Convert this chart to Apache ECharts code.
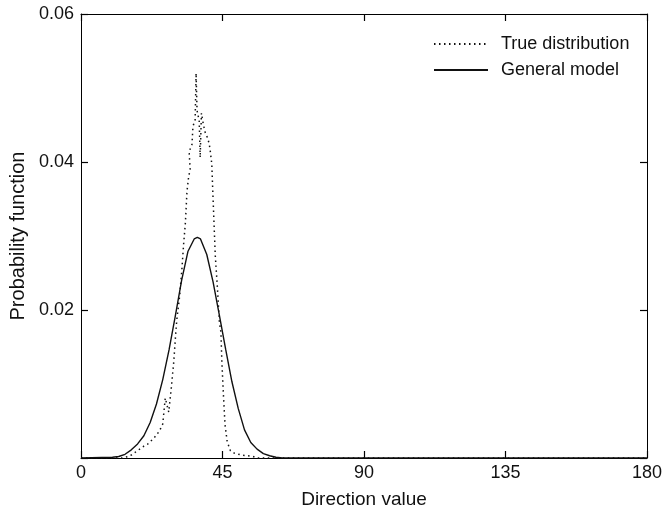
<!DOCTYPE html>
<html>
<head>
<meta charset="utf-8">
<script src="https://cdn.jsdelivr.net/npm/echarts@6/dist/echarts.min.js"></script>
<style>
  html, body { margin: 0; padding: 0; background: #fff; }
  #chart { width: 665px; height: 514px; }
</style>
</head>
<body>
<div id="chart"></div>
<script>
// tick labels
var xTicks = [0, 45, 90, 135, 180]
var yTicks = [0.02, 0.04, 0.06]

// General model (solid)
var generalX = [0, 10, 12, 14, 16, 18, 20, 22, 24, 26, 28, 30, 32, 34, 36, 37, 38, 40, 42, 44, 46, 48, 50, 52, 54, 56, 58, 60, 62, 64, 180]
var generalY = [0, 0.0001, 0.0002, 0.0005, 0.0011, 0.0019, 0.0030, 0.0048, 0.0073, 0.0106, 0.0146, 0.0192, 0.0240, 0.0279, 0.0296, 0.0298, 0.0296, 0.0275, 0.0238, 0.0193, 0.0147, 0.0103, 0.0067, 0.0038, 0.0021, 0.0012, 0.0006, 0.0003, 0.0001, 0, 0]

// True distribution (dotted)
var trueX = [0, 13, 14, 15, 16, 17, 18, 19, 20, 21, 22, 23, 24, 25, 26, 26.8, 27.9, 28.7, 29.5, 30.2, 30.5, 31.4, 32.1, 32.6, 33.2, 33.7, 34.2, 34.7, 34.4, 35.3, 35.6, 36.3, 36.6, 36.9, 37.6, 37.9, 38.3, 38.9, 39.5, 40.3, 40.8, 41.1, 41.6, 41.9, 42.3, 42.7, 43.4, 44.0, 44.5, 44.8, 45.3, 45.8, 46.5, 47.5, 48.4, 51, 53, 54.7, 56, 180]
var trueY = [0, 0, 0.0001, 0.0002, 0.0004, 0.0007, 0.0010, 0.0013, 0.0016, 0.0018, 0.0022, 0.0026, 0.0031, 0.0037, 0.0046, 0.0081, 0.0062, 0.0094, 0.0130, 0.0173, 0.0188, 0.0220, 0.0256, 0.0287, 0.0318, 0.0360, 0.0379, 0.0390, 0.0414, 0.0424, 0.0448, 0.0457, 0.0520, 0.0470, 0.0455, 0.0406, 0.0466, 0.0451, 0.0440, 0.0432, 0.0424, 0.0415, 0.0397, 0.0362, 0.0318, 0.0274, 0.0229, 0.0184, 0.0170, 0.0130, 0.0085, 0.0045, 0.0022, 0.0010, 0.0007, 0.0004, 0.0003, 0.0002, 0, 0]

function zip(xs, ys) {
  return xs.map(function (x, i) { return [x, ys[i]] })
}

var font = 'Liberation Sans, Arial, sans-serif'
var black = '#000'

var frameLine = { onZero: false, show: true, lineStyle: { color: black, width: 1 } }
var inTick = { show: true, inside: true, length: 7, lineStyle: { color: black, width: 1.2 } }

var chart = echarts.init(document.getElementById('chart'))
chart.setOption({
  animation: false,
  backgroundColor: '#fff',
  textStyle: { fontFamily: font },
  grid: { left: 80, right: 15, top: 14, bottom: 54 },
  legend: {
    orient: 'vertical',
    left: 428,
    top: 30,
    itemWidth: 54,
    itemHeight: 18,
    itemGap: 8,
    itemStyle: { opacity: 0 },
    textStyle: { fontFamily: font, fontSize: 18, color: '#111', padding: [0, 0, 0, 8] },
    data: ['True distribution', 'General model']
  },
  xAxis: [{
    type: 'value',
    position: 'bottom',
    min: 0,
    max: 180,
    interval: 45,
    name: 'Direction value',
    nameLocation: 'middle',
    nameGap: 32,
    nameTextStyle: { fontFamily: font, fontSize: 19, color: '#111' },
    axisLine: frameLine,
    axisTick: inTick,
    axisLabel: { fontFamily: font, fontSize: 18, color: '#111', margin: 6,
      formatter: function (v) { return xTicks.indexOf(v) >= 0 ? String(v) : '' } },
    splitLine: { show: false }
  }, {
    type: 'value',
    position: 'top',
    min: 0,
    max: 180,
    interval: 45,
    axisLine: frameLine,
    axisTick: inTick,
    axisLabel: { show: false },
    splitLine: { show: false }
  }],
  yAxis: [{
    type: 'value',
    position: 'left',
    min: 0,
    max: 0.06,
    interval: 0.02,
    name: 'Probability function',
    nameLocation: 'middle',
    nameRotate: 90,
    nameGap: 53,
    nameTextStyle: { fontFamily: font, fontSize: 20, color: '#111' },
    axisLine: frameLine,
    axisTick: inTick,
    axisLabel: { fontFamily: font, fontSize: 18, color: '#111', margin: 7,
      formatter: function (v) {
        var t = yTicks.filter(function (y) { return Math.abs(y - v) < 1e-9 })
        return t.length ? t[0].toFixed(2) : ''
      } },
    splitLine: { show: false }
  }, {
    type: 'value',
    position: 'right',
    min: 0,
    max: 0.06,
    interval: 0.02,
    axisLine: frameLine,
    axisTick: inTick,
    axisLabel: { show: false },
    splitLine: { show: false }
  }],
  series: [{
    name: 'True distribution',
    type: 'line',
    symbol: 'none',
    data: zip(trueX, trueY),
    lineStyle: { color: '#111', width: 1.5, type: [1.5, 3.5] },
    itemStyle: { color: '#111' }
  }, {
    name: 'General model',
    type: 'line',
    symbol: 'none',
    data: zip(generalX, generalY),
    lineStyle: { color: '#111', width: 1.4, type: 'solid' },
    itemStyle: { color: '#111' }
  }]
})
</script>
</body>
</html>
